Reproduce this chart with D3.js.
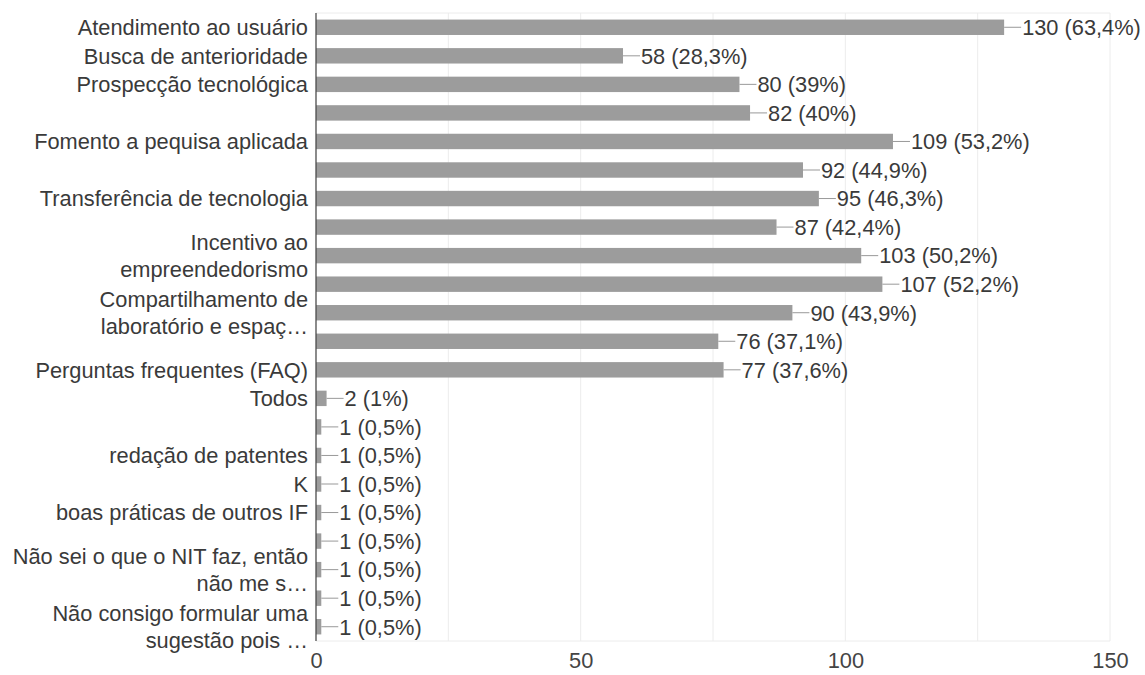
<!DOCTYPE html>
<html>
<head>
<meta charset="utf-8">
<script src="https://cdn.jsdelivr.net/npm/d3@7"></script>
<style>
  html, body { margin: 0; padding: 0; background: #fff; }
  svg { display: block; }
  text { font-family: Arial, "Liberation Sans", sans-serif; }
</style>
</head>
<body>
<svg id="chart" width="1145" height="675"></svg>
<script>
// Response options (empty label = label not shown on the axis, lines split with "\n")
const categories = [
  "Atendimento ao usuário",
  "Busca de anterioridade",
  "Prospecção tecnológica",
  "",
  "Fomento a pequisa aplicada",
  "",
  "Transferência de tecnologia",
  "",
  "Incentivo ao\nempreendedorismo",
  "",
  "Compartilhamento de\nlaboratório e espaç…",
  "",
  "Perguntas frequentes (FAQ)",
  "Todos",
  "",
  "redação de patentes",
  "K",
  "boas práticas de outros IF",
  "",
  "Não sei o que o NIT faz, então\nnão me s…",
  "",
  "Não consigo formular uma\nsugestão pois …"
];
const counts = [130, 58, 80, 82, 109, 92, 95, 87, 103, 107, 90, 76, 77, 2, 1, 1, 1, 1, 1, 1, 1, 1];
const percents = ["63,4%", "28,3%", "39%", "40%", "53,2%", "44,9%", "46,3%", "42,4%", "50,2%", "52,2%",
  "43,9%", "37,1%", "37,6%", "1%", "0,5%", "0,5%", "0,5%", "0,5%", "0,5%", "0,5%", "0,5%", "0,5%"];
const xTicks = [0, 50, 100, 150];
const gridValues = [0, 25, 50, 75, 100, 125, 150];

const FS = 21.8;
const svg = d3.select("#chart");
const margin = { left: 316, right: 35, top: 13, bottom: 34 };
const W = 1145, H = 675;
const plotW = W - margin.left - margin.right;
const plotH = H - margin.top - margin.bottom;

const g = svg.append("g").attr("transform", `translate(${margin.left},${margin.top})`);

const x = d3.scaleLinear().domain([0, 150]).range([0, plotW]);
const y = d3.scaleBand().domain(d3.range(categories.length)).range([0, plotH]).paddingInner(0.46).paddingOuter(0.23);

// vertical gridlines
g.selectAll("line.grid").data(gridValues).join("line")
  .attr("class", "grid")
  .attr("x1", d => x(d)).attr("x2", d => x(d))
  .attr("y1", 0).attr("y2", plotH)
  .attr("stroke", "#ececec").attr("stroke-width", 1);
// top and bottom frame lines
[0, plotH].forEach(yy => g.append("line")
  .attr("x1", 0).attr("x2", plotW).attr("y1", yy).attr("y2", yy)
  .attr("stroke", "#ececec"));

// bars
g.selectAll("rect.bar").data(counts).join("rect")
  .attr("class", "bar")
  .attr("x", 0)
  .attr("y", (d, i) => y(i))
  .attr("width", d => x(d))
  .attr("height", y.bandwidth())
  .attr("fill", "#9c9c9c");

// leader lines and value labels
const leader = 17;
g.selectAll("line.leader").data(counts).join("line")
  .attr("class", "leader")
  .attr("x1", d => x(d)).attr("x2", d => x(d) + leader)
  .attr("y1", (d, i) => y(i) + y.bandwidth() / 2)
  .attr("y2", (d, i) => y(i) + y.bandwidth() / 2)
  .attr("stroke", "#999").attr("stroke-width", 1);
g.selectAll("text.value").data(counts).join("text")
  .attr("class", "value")
  .attr("x", d => x(d) + leader + 1)
  .attr("y", (d, i) => y(i) + y.bandwidth() / 2)
  .attr("dy", "0.36em")
  .attr("font-size", FS)
  .attr("fill", "#3a3a3a")
  .text((d, i) => `${d} (${percents[i]})`);

// y axis line
g.append("line")
  .attr("x1", 0).attr("x2", 0).attr("y1", 0).attr("y2", plotH)
  .attr("stroke", "#444").attr("stroke-width", 1.2);

// category labels
const lineH = 27.5;
const catG = g.selectAll("text.cat").data(categories).join("text")
  .attr("class", "cat")
  .attr("text-anchor", "end")
  .attr("font-size", FS)
  .attr("fill", "#3a3a3a")
  .attr("x", -8)
  .attr("y", (d, i) => y(i) + y.bandwidth() / 2);
catG.each(function (d) {
  const lines = d ? d.split("\n") : [];
  const t = d3.select(this);
  lines.forEach((ln, k) => {
    t.append("tspan")
      .attr("x", -8)
      .attr("dy", k === 0 ? `${0.36 * FS - (lines.length - 1) * lineH / 2}px` : `${lineH}px`)
      .text(ln);
  });
});

// x axis tick labels
const xAxis = d3.axisBottom(x).tickValues(xTicks).tickSize(0).tickPadding(12);
const ax = g.append("g").attr("transform", `translate(0,${plotH})`).call(xAxis);
ax.select(".domain").remove();
ax.selectAll("text")
  .attr("font-size", FS)
  .attr("fill", "#444")
  .attr("font-family", "Arial, Liberation Sans, sans-serif");
</script>
</body>
</html>
